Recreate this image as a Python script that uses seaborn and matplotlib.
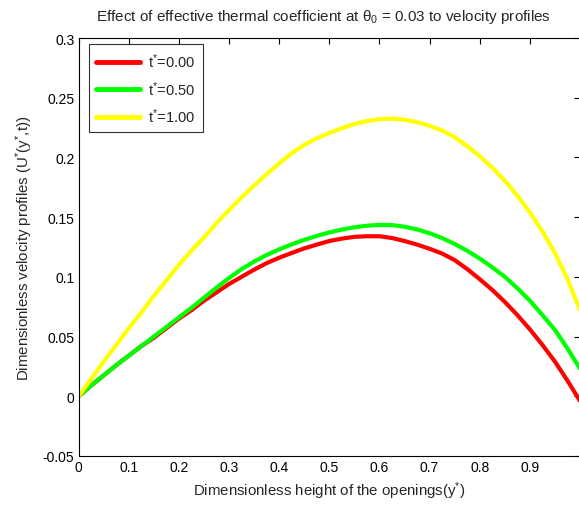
import numpy as np
import pandas as pd
import matplotlib
matplotlib.use("Agg")
import matplotlib.pyplot as plt
import seaborn as sns

y_star = [0.0, 0.025, 0.05, 0.075, 0.1, 0.125, 0.15, 0.175, 0.2, 0.225, 0.25,
          0.275, 0.3, 0.325, 0.35, 0.375, 0.4, 0.425, 0.45, 0.475, 0.5,
          0.525, 0.55, 0.575, 0.6, 0.625, 0.65, 0.675, 0.7, 0.725, 0.75,
          0.775, 0.8, 0.825, 0.85, 0.875, 0.9, 0.925, 0.95, 0.975, 1.0]
u_t000 = [0.0, 0.009, 0.0175, 0.026, 0.034, 0.042, 0.049, 0.057, 0.065, 0.072, 0.080,
          0.087, 0.094, 0.100, 0.106, 0.1115, 0.116, 0.120, 0.1238, 0.127, 0.130,
          0.132, 0.1335, 0.134, 0.134, 0.1325, 0.130, 0.127, 0.1235, 0.1195, 0.114,
          0.1065, 0.098, 0.089, 0.079, 0.068, 0.056, 0.043, 0.029, 0.013, -0.004]
u_t050 = [0.0, 0.009, 0.0175, 0.026, 0.034, 0.042, 0.050, 0.058, 0.066, 0.074, 0.0825,
          0.091, 0.099, 0.1065, 0.1128, 0.1183, 0.123, 0.1272, 0.131, 0.1343, 0.1372,
          0.1396, 0.1415, 0.1428, 0.1435, 0.1433, 0.142, 0.1397, 0.1365, 0.1325, 0.1275,
          0.1218, 0.1153, 0.108, 0.100, 0.0905, 0.080, 0.068, 0.0555, 0.040, 0.023]
u_t100 = [0.0, 0.0145, 0.029, 0.043, 0.057, 0.070, 0.084, 0.097, 0.110, 0.122, 0.133,
          0.145, 0.156, 0.1665, 0.1765, 0.186, 0.195, 0.2035, 0.2105, 0.216, 0.2205,
          0.2245, 0.228, 0.2305, 0.232, 0.2325, 0.2315, 0.2295, 0.2265, 0.2225, 0.217,
          0.2095, 0.201, 0.1915, 0.1805, 0.168, 0.154, 0.138, 0.120, 0.098, 0.072]
labels = ["t$^{*}$=0.00", "t$^{*}$=0.50", "t$^{*}$=1.00"]
colors = ["#ff0000", "#00ff00", "#ffff00"]
x_ticks = [0, 0.1, 0.2, 0.3, 0.4, 0.5, 0.6, 0.7, 0.8, 0.9]
x_tick_labels = ["0", "0.1", "0.2", "0.3", "0.4", "0.5", "0.6", "0.7", "0.8", "0.9"]
y_ticks = [-0.05, 0, 0.05, 0.1, 0.15, 0.2, 0.25, 0.3]
y_tick_labels = ["-0.05", "0", "0.05", "0.1", "0.15", "0.2", "0.25", "0.3"]

df = pd.concat([
    pd.DataFrame({"y": y_star, "u": u, "series": lab})
    for u, lab in zip([u_t000, u_t050, u_t100], labels)
])

sns.set_style("white")
plt.rcParams["font.family"] = ["Liberation Sans", "DejaVu Sans"]
plt.rcParams["mathtext.fontset"] = "custom"
plt.rcParams["mathtext.rm"] = "Liberation Sans"
plt.rcParams["mathtext.it"] = "Liberation Sans"
plt.rcParams["mathtext.default"] = "regular"

fig = plt.figure(figsize=(5.79, 5.10), dpi=100)
ax = fig.add_axes([0.1358, 0.104, 0.866, 0.8195])

sns.lineplot(data=df, x="y", y="u", hue="series", palette=colors,
             linewidth=3, ax=ax, legend=True)

ax.set_xlim(0, 1)
ax.set_ylim(-0.05, 0.3)
ax.set_xticks(x_ticks)
ax.set_xticklabels(x_tick_labels)
ax.set_yticks(y_ticks)
ax.set_yticklabels(y_tick_labels)
ax.tick_params(direction="in", length=4, width=0.8, top=True, right=True,
               labelsize=10, colors="black", pad=3)
for s in ax.spines.values():
    s.set_color("black")
    s.set_linewidth(0.8)

ax.set_xlabel("Dimensionless height of the openings(y$^{*}$)", fontsize=10.8, labelpad=4)
ax.set_ylabel("Dimensionless velocity profiles (U$^{*}$(y$^{*}$,t))", fontsize=10.8, labelpad=6)
ax.set_title(r"Effect of effective thermal coefficient at $\theta_0$ = 0.03 to velocity profiles",
             fontsize=11, pad=13, x=0.488)

leg = ax.legend(loc="upper left", fontsize=10.5, frameon=True, fancybox=False,
                handlelength=3.0, borderpad=0.5, labelspacing=0.6,
                bbox_to_anchor=(0.02, 0.985), borderaxespad=0, handletextpad=0.6)
leg.get_frame().set_edgecolor("black")
leg.get_frame().set_linewidth(0.8)
for line in leg.get_lines():
    line.set_linewidth(3.5)

fig.savefig("out.png", dpi=100)
